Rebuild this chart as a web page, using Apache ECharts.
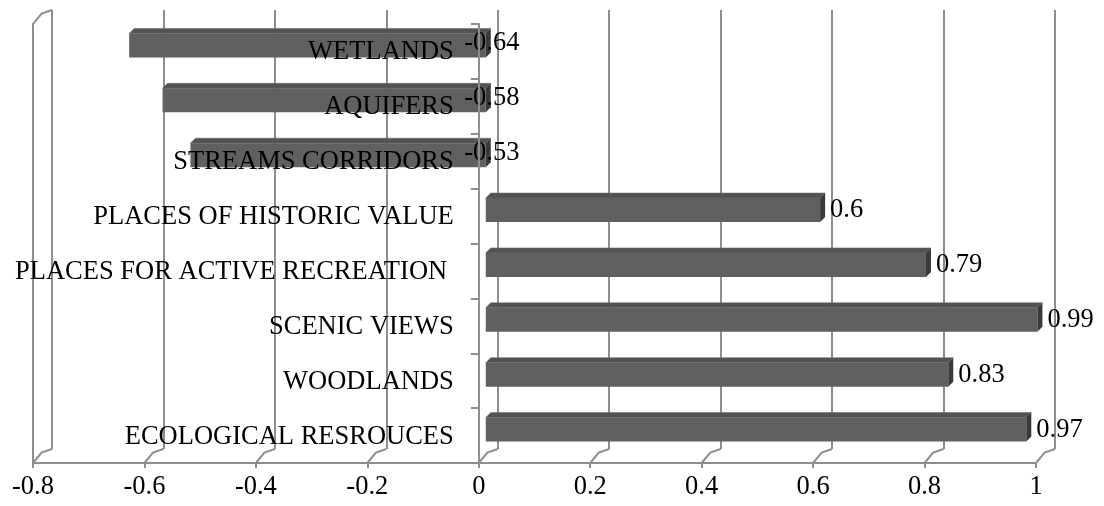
<!DOCTYPE html>
<html>
<head>
<meta charset="utf-8">
<script src="https://cdn.jsdelivr.net/npm/echarts@6/dist/echarts.min.js"></script>
<style>
  html, body { margin: 0; padding: 0; background: #ffffff; }
  #chart { width: 1104px; height: 506px; }
</style>
</head>
<body>
<div id="chart"></div>
<script>
// Categories listed bottom to top, as in the worksheet
const categories = [
  'ECOLOGICAL RESROUCES',
  'WOODLANDS',
  'SCENIC VIEWS',
  'PLACES FOR ACTIVE RECREATION ',
  'PLACES OF HISTORIC VALUE',
  'STREAMS CORRIDORS',
  'AQUIFERS',
  'WETLANDS'
];
const values = [0.97, 0.83, 0.99, 0.79, 0.6, -0.53, -0.58, -0.64];
const xTicks = [-0.8, -0.6, -0.4, -0.2, 0, 0.2, 0.4, 0.6, 0.8, 1];

const FONT = "'Liberation Serif', 'Times New Roman', serif";
const FONT_SIZE = 26.5;
const GRID_GRAY = '#8e8e8e';

// 3-D look: depth offset of the back wall, and of the bar's mid plane
const DEPTH_X = 19, DEPTH_Y = -14;
const BAR_OX = 7, BAR_OY = -6;
const BAR_H = 24, BAR_DX = 5, BAR_DY = -5;
const CAT_LABEL_GAP = 25;

const front = { left: 33, top: 24, width: 1003, height: 439 };
const back = {
  left: front.left + DEPTH_X, top: front.top + DEPTH_Y,
  width: front.width, height: front.height
};

const chart = echarts.init(document.getElementById('chart'), null, { renderer: 'canvas' });

const xMin = xTicks[0], xMax = xTicks[xTicks.length - 1];

const option = {
  animation: false,
  backgroundColor: '#ffffff',
  grid: [
    Object.assign({ containLabel: false, outerBoundsMode: 'none' }, back),
    Object.assign({ containLabel: false, outerBoundsMode: 'none' }, front)
  ],
  xAxis: [
    {
      gridIndex: 0, type: 'value', min: xMin, max: xMax, interval: 0.2,
      axisLine: { show: false }, axisTick: { show: false }, axisLabel: { show: false },
      splitLine: { show: true, lineStyle: { color: GRID_GRAY, width: 2 } },
      z: 0
    },
    {
      gridIndex: 1, type: 'value', min: xMin, max: xMax, interval: 0.2,
      axisLine: { show: true, onZero: false, lineStyle: { color: GRID_GRAY, width: 2 } },
      axisTick: { show: true, length: 5, lineStyle: { color: GRID_GRAY, width: 2 } },
      axisLabel: { show: true, margin: 11, color: '#000', fontFamily: FONT, fontSize: FONT_SIZE },
      splitLine: { show: false },
      z: 4
    }
  ],
  yAxis: [
    {
      gridIndex: 0, type: 'category', data: categories,
      axisLine: { show: false }, axisTick: { show: false }, axisLabel: { show: false },
      splitLine: { show: false }
    },
    {
      gridIndex: 1, type: 'category', data: categories,
      axisLine: { show: true, onZero: true, lineStyle: { color: GRID_GRAY, width: 2 } },
      axisTick: { show: true, length: 8, lineStyle: { color: GRID_GRAY, width: 2 } },
      axisLabel: { show: false },
      splitLine: { show: false },
      z: 4
    }
  ],
  series: [
    {
      // floor edges and the left wall of the plot box
      type: 'custom',
      xAxisIndex: 1, yAxisIndex: 1,
      z: 1,
      silent: true,
      data: xTicks.map(v => [v, 0]),
      encode: { x: 0, y: 1 },
      renderItem: function (params, api) {
        const cs = params.coordSys;
        const v = api.value(0);
        const x = api.coord([v, 0])[0];
        const bottom = cs.y + cs.height;
        const style = { stroke: GRID_GRAY, lineWidth: 2, fill: null };
        const children = [{
          type: 'polyline',
          shape: { points: [[x, bottom], [x + DEPTH_X * 0.45, bottom + DEPTH_Y * 0.75], [x + DEPTH_X, bottom + DEPTH_Y]] },
          style: style
        }];
        if (v === xMin) {
          children.push({
            type: 'polyline',
            shape: { points: [[x, bottom], [x, cs.y], [x + DEPTH_X * 0.45, cs.y + DEPTH_Y * 0.75], [x + DEPTH_X, cs.y + DEPTH_Y]] },
            style: style
          });
        }
        return { type: 'group', children: children };
      }
    },
    {
      // 3-D style bars with their value labels
      type: 'custom',
      xAxisIndex: 1, yAxisIndex: 1,
      z: 2,
      data: values.map((v, i) => [v, i]),
      encode: { x: 0, y: 1 },
      renderItem: function (params, api) {
        const v = api.value(0);
        const i = api.value(1);
        const p0 = api.coord([0, i]);
        const p1 = api.coord([v, i]);
        const xl = Math.min(p0[0], p1[0]) + BAR_OX;
        const xr = Math.max(p0[0], p1[0]) + BAR_OX;
        const yc = p0[1] + BAR_OY;
        const yt = yc - BAR_H / 2, yb = yc + BAR_H / 2;
        const label = {
          type: 'text',
          z2: 10,
          style: {
            text: String(v),
            x: v >= 0 ? xr + BAR_DX + 5 : xr + BAR_DX + 1,
            y: yc - (v >= 0 ? 0 : 2),
            align: v >= 0 ? 'left' : 'center',
            verticalAlign: 'middle',
            fill: '#000',
            font: FONT_SIZE + 'px ' + FONT
          }
        };
        return {
          type: 'group',
          children: [
            {
              type: 'polygon',
              shape: { points: [[xl, yt], [xl + BAR_DX, yt + BAR_DY], [xr + BAR_DX, yt + BAR_DY], [xr, yt]] },
              style: { fill: '#525252', stroke: '#6e6e6e', lineWidth: 0.6 }
            },
            {
              type: 'rect',
              shape: { x: xl, y: yt, width: xr - xl, height: BAR_H },
              style: { fill: '#606060' }
            },
            {
              type: 'polygon',
              shape: { points: [[xr, yt], [xr + BAR_DX, yt + BAR_DY], [xr + BAR_DX, yb + BAR_DY], [xr, yb]] },
              style: { fill: '#3a3a3a' }
            },
            label
          ]
        };
      }
    },
    {
      // category names, anchored next to the zero line and drawn over the bars
      type: 'custom',
      xAxisIndex: 1, yAxisIndex: 1,
      z: 5,
      silent: true,
      data: categories.map((c, i) => [0, i]),
      encode: { x: 0, y: 1 },
      renderItem: function (params, api) {
        const i = api.value(1);
        const p = api.coord([0, i]);
        return {
          type: 'text',
          style: {
            text: categories[i],
            x: p[0] - CAT_LABEL_GAP,
            y: p[1] + 1,
            align: 'right',
            verticalAlign: 'middle',
            fill: '#000',
            font: FONT_SIZE + 'px ' + FONT
          }
        };
      }
    }
  ]
};

chart.setOption(option);
</script>
</body>
</html>
